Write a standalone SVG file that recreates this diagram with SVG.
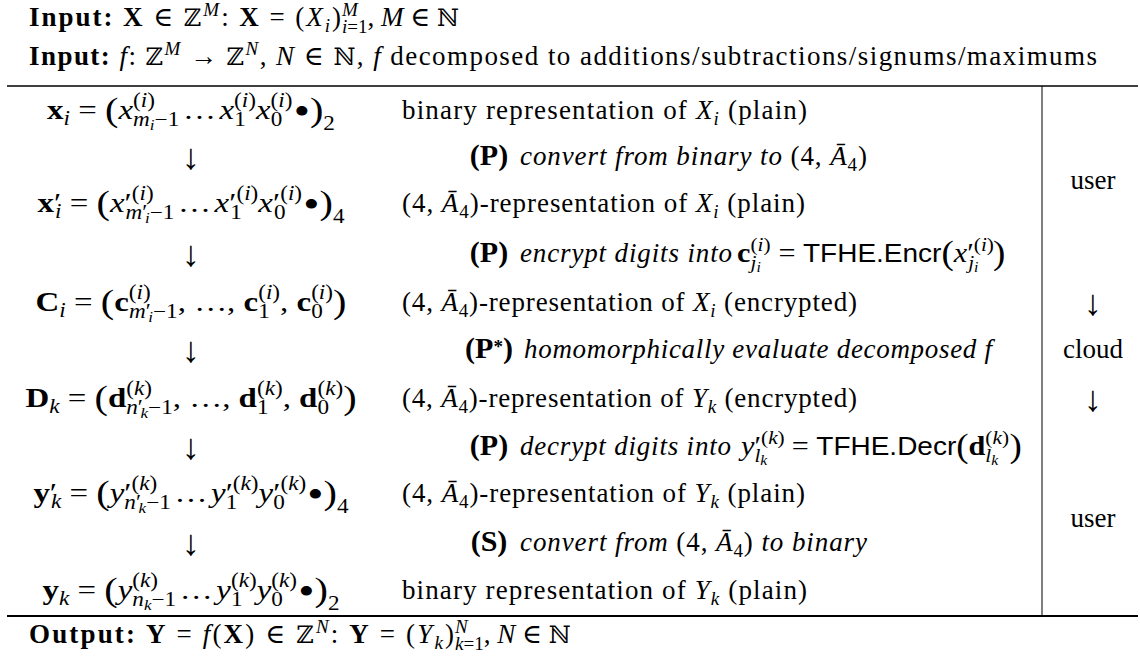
<svg xmlns="http://www.w3.org/2000/svg" width="1140" height="661" viewBox="0 0 1140 661">
<style>
text{font-family:"Liberation Serif","DejaVu Serif",serif;font-size:27px;fill:#000}
.i{font-style:italic}
.r{font-style:normal}
.b{font-weight:bold}
.s{font-size:19px}
.ss{font-size:14px}
.big{font-size:33px}
.sf{font-family:"Liberation Sans","DejaVu Sans",sans-serif;font-size:25px;font-style:normal}
.bb{font-family:"DejaVu Serif",serif;font-size:24px}
.bul{font-size:38px}
.m{text-anchor:middle}
.arr{text-anchor:middle;font-size:36px}
.lbl{text-anchor:middle;font-weight:bold;font-size:30px}
.rule{stroke:#000;fill:none}
</style>
<rect width="1140" height="661" fill="#fff"/>

<g id="header">
<text x="29" y="26" textLength="312" lengthAdjust="spacing"><tspan class="b">Input:</tspan> <tspan class="b">X</tspan> ∈ <tspan class="bb">ℤ</tspan><tspan class="i s" dy="-10">M</tspan><tspan dy="10">: </tspan><tspan class="b">X</tspan> = (<tspan class="i">X</tspan><tspan class="i s" dy="6">i</tspan><tspan dy="-6">)</tspan></text>
<text x="342" y="26"><tspan class="i s" dy="-10">M</tspan><tspan class="i s" dx="-15.8" dy="17">i</tspan><tspan class="s">=1</tspan><tspan dy="-7">, </tspan><tspan class="i">M</tspan> ∈ <tspan class="bb">ℕ</tspan></text>
<text x="29" y="65" textLength="1068" lengthAdjust="spacing"><tspan class="b">Input:</tspan> <tspan class="i">f</tspan>: <tspan class="bb">ℤ</tspan><tspan class="i s" dy="-10">M</tspan><tspan dy="10"> → </tspan><tspan class="bb">ℤ</tspan><tspan class="i s" dy="-10">N</tspan><tspan dy="10">, </tspan><tspan class="i">N</tspan> ∈ <tspan class="bb">ℕ</tspan>, <tspan class="i">f</tspan> decomposed to additions/subtractions/signums/maximums</text>
</g>

<g id="rules">
<line class="rule" x1="7" y1="86" x2="1138" y2="86" stroke-width="1.3"/>
<line class="rule" x1="7" y1="616" x2="1138" y2="616" stroke-width="1.8"/>
<line class="rule" x1="1042" y1="86" x2="1042" y2="616" stroke-width="1"/>
</g>

<g id="row-x">
<text class="m" transform="translate(191 119) scale(1.22 1.05)"><tspan class="b">x</tspan><tspan class="i s" dy="6">i</tspan><tspan dy="-6"> = </tspan><tspan class="big" dy="2">(</tspan><tspan class="i" dy="-2">x</tspan><tspan class="s" dy="-11">(<tspan class="i">i</tspan>)</tspan><tspan class="i s" dx="-17.9" dy="18">m</tspan><tspan class="i ss" dy="3">i</tspan><tspan class="s" dy="-3">−1</tspan><tspan dx="3" dy="-7">…</tspan><tspan class="i" dx="3">x</tspan><tspan class="s" dy="-11">(<tspan class="i">i</tspan>)</tspan><tspan class="s" dx="-17.9" dy="18">1</tspan><tspan class="i" dx="8.4" dy="-7">x</tspan><tspan class="s" dy="-11">(<tspan class="i">i</tspan>)</tspan><tspan class="s" dx="-17.9" dy="18">0</tspan><tspan class="bul" dx="9.4" dy="-1">•</tspan><tspan class="big" dy="-4">)</tspan><tspan class="s" dy="8">2</tspan></text>
<text x="402" y="119" textLength="405" lengthAdjust="spacing">binary representation of <tspan class="i">X</tspan><tspan class="i s" dy="6">i</tspan><tspan dy="-6"> (plain)</tspan></text>
</g>

<g id="step-1">
<text class="arr" x="191" y="169">↓</text>
<text class="lbl" x="489" y="165">(P)</text>
<text class="i" x="520" y="165" textLength="347" lengthAdjust="spacing">convert from binary to <tspan class="r">(4, </tspan>Ā<tspan class="r s" dy="6">4</tspan><tspan class="r" dy="-6">)</tspan></text>
</g>

<g id="row-xp">
<text class="m" transform="translate(191 212) scale(1.22 1.05)"><tspan class="b">x</tspan>′<tspan class="i s" dx="-5" dy="6">i</tspan><tspan dy="-6"> = </tspan><tspan class="big" dy="2">(</tspan><tspan class="i" dy="-2">x</tspan>′<tspan class="s" dy="-11">(<tspan class="i">i</tspan>)</tspan><tspan class="i s" dx="-23" dy="18">m</tspan><tspan class="s">′</tspan><tspan class="i ss" dx="-2" dy="3">i</tspan><tspan class="s" dy="-3">−1</tspan><tspan dx="3" dy="-7">…</tspan><tspan class="i" dx="3">x</tspan>′<tspan class="s" dy="-11">(<tspan class="i">i</tspan>)</tspan><tspan class="s" dx="-23" dy="18">1</tspan><tspan class="i" dx="13.5" dy="-7">x</tspan>′<tspan class="s" dy="-11">(<tspan class="i">i</tspan>)</tspan><tspan class="s" dx="-23" dy="18">0</tspan><tspan class="bul" dx="14.5" dy="-1">•</tspan><tspan class="big" dy="-4">)</tspan><tspan class="s" dy="8">4</tspan></text>
<text x="402" y="212" textLength="403" lengthAdjust="spacing">(4, <tspan class="i">Ā</tspan><tspan class="s" dy="6">4</tspan><tspan dy="-6">)-representation of </tspan><tspan class="i">X</tspan><tspan class="i s" dy="6">i</tspan><tspan dy="-6"> (plain)</tspan></text>
</g>

<g id="step-2">
<text class="arr" x="191" y="266">↓</text>
<text class="lbl" x="489" y="262">(P)</text>
<text class="i" x="520" y="262" textLength="212" lengthAdjust="spacing">encrypt digits into</text>
<text transform="translate(737 262) scale(1.12 1)"><tspan class="b">c</tspan><tspan class="s" dy="-11">(<tspan class="i">i</tspan>)</tspan><tspan class="i s" dx="-17.9" dy="18">j</tspan><tspan class="i ss" dy="3">i</tspan><tspan dx="9" dy="-10"> = </tspan><tspan class="sf">TFHE.Encr</tspan><tspan class="big" dy="2">(</tspan><tspan class="i" dy="-2">x</tspan>′<tspan class="s" dy="-11">(<tspan class="i">i</tspan>)</tspan><tspan class="i s" dx="-23" dy="18">j</tspan><tspan class="i ss" dy="3">i</tspan><tspan class="big" dx="13" dy="-8">)</tspan></text>
</g>

<g id="row-C">
<text class="m" transform="translate(191 311) scale(1.22 1.05)"><tspan class="b">C</tspan><tspan class="i s" dy="6">i</tspan><tspan dy="-6"> = </tspan><tspan class="big" dy="2">(</tspan><tspan class="b" dy="-2">c</tspan><tspan class="s" dy="-11">(<tspan class="i">i</tspan>)</tspan><tspan class="i s" dx="-17.9" dy="18">m</tspan><tspan class="s">′</tspan><tspan class="i ss" dx="-2" dy="3">i</tspan><tspan class="s" dy="-3">−1</tspan><tspan dy="-7">, …, </tspan><tspan class="b">c</tspan><tspan class="s" dy="-11">(<tspan class="i">i</tspan>)</tspan><tspan class="s" dx="-17.9" dy="18">1</tspan><tspan dx="8.4" dy="-7">, </tspan><tspan class="b">c</tspan><tspan class="s" dy="-11">(<tspan class="i">i</tspan>)</tspan><tspan class="s" dx="-17.9" dy="18">0</tspan><tspan class="big" dx="8.4" dy="-5">)</tspan></text>
<text x="402" y="311" textLength="455" lengthAdjust="spacing">(4, <tspan class="i">Ā</tspan><tspan class="s" dy="6">4</tspan><tspan dy="-6">)-representation of </tspan><tspan class="i">X</tspan><tspan class="i s" dy="6">i</tspan><tspan dy="-6"> (encrypted)</tspan></text>
</g>

<g id="step-3">
<text class="arr" x="191" y="362">↓</text>
<text class="lbl" x="489" y="358">(P<tspan class="s" dy="-5">*</tspan><tspan dy="5">)</tspan></text>
<text class="i" x="524" y="358" textLength="468" lengthAdjust="spacing">homomorphically evaluate decomposed f</text>
</g>

<g id="row-D">
<text class="m" transform="translate(191 407) scale(1.22 1.05)"><tspan class="b">D</tspan><tspan class="i s" dy="6">k</tspan><tspan dy="-6"> = </tspan><tspan class="big" dy="2">(</tspan><tspan class="b" dy="-2">d</tspan><tspan class="s" dy="-11">(<tspan class="i">k</tspan>)</tspan><tspan class="i s" dx="-21.1" dy="18">n</tspan><tspan class="s">′</tspan><tspan class="i ss" dx="-2" dy="3">k</tspan><tspan class="s" dy="-3">−1</tspan><tspan dy="-7">, …, </tspan><tspan class="b">d</tspan><tspan class="s" dy="-11">(<tspan class="i">k</tspan>)</tspan><tspan class="s" dx="-21.1" dy="18">1</tspan><tspan dx="11.6" dy="-7">, </tspan><tspan class="b">d</tspan><tspan class="s" dy="-11">(<tspan class="i">k</tspan>)</tspan><tspan class="s" dx="-21.1" dy="18">0</tspan><tspan class="big" dx="11.6" dy="-5">)</tspan></text>
<text x="402" y="407" textLength="455" lengthAdjust="spacing">(4, <tspan class="i">Ā</tspan><tspan class="s" dy="6">4</tspan><tspan dy="-6">)-representation of </tspan><tspan class="i">Y</tspan><tspan class="i s" dy="6">k</tspan><tspan dy="-6"> (encrypted)</tspan></text>
</g>

<g id="step-4">
<text class="arr" x="191" y="459">↓</text>
<text class="lbl" x="489" y="455">(P)</text>
<text class="i" x="520" y="455" textLength="211" lengthAdjust="spacing">decrypt digits into</text>
<text transform="translate(741 455) scale(1.12 1)"><tspan class="i">y</tspan>′<tspan class="s" dy="-11">(<tspan class="i">k</tspan>)</tspan><tspan class="i s" dx="-27" dy="18">l</tspan><tspan class="i ss" dy="3">k</tspan><tspan dx="15" dy="-10"> = </tspan><tspan class="sf">TFHE.Decr</tspan><tspan class="big" dy="2">(</tspan><tspan class="b" dy="-2">d</tspan><tspan class="s" dy="-11">(<tspan class="i">k</tspan>)</tspan><tspan class="i s" dx="-21.1" dy="18">l</tspan><tspan class="i ss" dy="3">k</tspan><tspan class="big" dx="10" dy="-8">)</tspan></text>
</g>

<g id="row-yp">
<text class="m" transform="translate(191 502) scale(1.22 1.05)"><tspan class="b">y</tspan>′<tspan class="i s" dx="-5" dy="6">k</tspan><tspan dy="-6"> = </tspan><tspan class="big" dy="2">(</tspan><tspan class="i" dy="-2">y</tspan>′<tspan class="s" dy="-11">(<tspan class="i">k</tspan>)</tspan><tspan class="i s" dx="-27" dy="18">n</tspan><tspan class="s">′</tspan><tspan class="i ss" dx="-2" dy="3">k</tspan><tspan class="s" dy="-3">−1</tspan><tspan dx="3" dy="-7">…</tspan><tspan class="i" dx="3">y</tspan>′<tspan class="s" dy="-11">(<tspan class="i">k</tspan>)</tspan><tspan class="s" dx="-27" dy="18">1</tspan><tspan class="i" dx="17.5" dy="-7">y</tspan>′<tspan class="s" dy="-11">(<tspan class="i">k</tspan>)</tspan><tspan class="s" dx="-27" dy="18">0</tspan><tspan class="bul" dx="18.5" dy="-1">•</tspan><tspan class="big" dy="-4">)</tspan><tspan class="s" dy="8">4</tspan></text>
<text x="402" y="502" textLength="403" lengthAdjust="spacing">(4, <tspan class="i">Ā</tspan><tspan class="s" dy="6">4</tspan><tspan dy="-6">)-representation of </tspan><tspan class="i">Y</tspan><tspan class="i s" dy="6">k</tspan><tspan dy="-6"> (plain)</tspan></text>
</g>

<g id="step-5">
<text class="arr" x="191" y="555">↓</text>
<text class="lbl" x="489" y="551">(S)</text>
<text class="i" x="520" y="551" textLength="347" lengthAdjust="spacing">convert from <tspan class="r">(4, </tspan>Ā<tspan class="r s" dy="6">4</tspan><tspan class="r" dy="-6">)</tspan> to binary</text>
</g>

<g id="row-y">
<text class="m" transform="translate(191 599) scale(1.22 1.05)"><tspan class="b">y</tspan><tspan class="i s" dy="6">k</tspan><tspan dy="-6"> = </tspan><tspan class="big" dy="2">(</tspan><tspan class="i" dy="-2">y</tspan><tspan class="s" dy="-11">(<tspan class="i">k</tspan>)</tspan><tspan class="i s" dx="-21.1" dy="18">n</tspan><tspan class="i ss" dy="3">k</tspan><tspan class="s" dy="-3">−1</tspan><tspan dx="3" dy="-7">…</tspan><tspan class="i" dx="3">y</tspan><tspan class="s" dy="-11">(<tspan class="i">k</tspan>)</tspan><tspan class="s" dx="-21.1" dy="18">1</tspan><tspan class="i" dx="11.6" dy="-7">y</tspan><tspan class="s" dy="-11">(<tspan class="i">k</tspan>)</tspan><tspan class="s" dx="-21.1" dy="18">0</tspan><tspan class="bul" dx="12.6" dy="-1">•</tspan><tspan class="big" dy="-4">)</tspan><tspan class="s" dy="8">2</tspan></text>
<text x="402" y="599" textLength="405" lengthAdjust="spacing">binary representation of <tspan class="i">Y</tspan><tspan class="i s" dy="6">k</tspan><tspan dy="-6"> (plain)</tspan></text>
</g>

<g id="location">
<text class="m" x="1093" y="189">user</text>
<text class="arr" x="1093" y="315">↓</text>
<text class="m" x="1093" y="358">cloud</text>
<text class="arr" x="1093" y="411">↓</text>
<text class="m" x="1093" y="527">user</text>
</g>

<g id="footer">
<text x="29" y="643" textLength="425" lengthAdjust="spacing"><tspan class="b">Output:</tspan> <tspan class="b">Y</tspan> = <tspan class="i">f</tspan>(<tspan class="b">X</tspan>) ∈ <tspan class="bb">ℤ</tspan><tspan class="i s" dy="-10">N</tspan><tspan dy="10">: </tspan><tspan class="b">Y</tspan> = (<tspan class="i">Y</tspan><tspan class="i s" dy="6">k</tspan><tspan dy="-6">)</tspan></text>
<text x="455" y="643"><tspan class="i s" dy="-10">N</tspan><tspan class="i s" dx="-12.7" dy="17">k</tspan><tspan class="s">=1</tspan><tspan dy="-7">, </tspan><tspan class="i">N</tspan> ∈ <tspan class="bb">ℕ</tspan></text>
</g>
</svg>
